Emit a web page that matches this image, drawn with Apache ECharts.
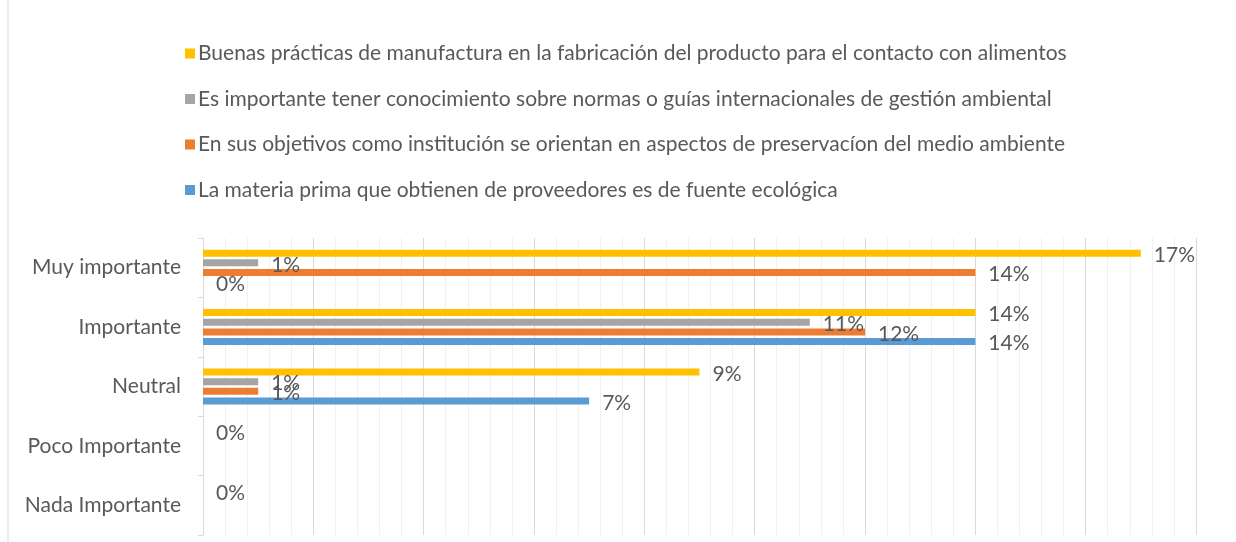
<!DOCTYPE html>
<html><head><meta charset="utf-8">
<script src="https://cdn.jsdelivr.net/npm/echarts@6/dist/echarts.min.js"></script>
<style>html,body{margin:0;padding:0;background:#fff}#c{width:1236px;height:542px}</style>
</head><body><div id="c"></div>
<script>
const categories = ["Muy importante", "Importante", "Neutral", "Poco Importante", "Nada Importante"];
const seriesNames = [
  "Buenas prácticas de manufactura en la fabricación del producto para el contacto con alimentos",
  "Es importante tener conocimiento sobre normas o guías internacionales de gestión ambiental",
  "En sus objetivos como institución se orientan en aspectos de preservacíon del medio ambiente",
  "La materia prima que obtienen de proveedores es de fuente ecológica"
];
const buenasPracticas = [17, 14, 9, 0, 0];
const normasInternacionales = [1, 11, 1, null, null];
const objetivosInstitucion = [14, 12, 1, null, null];
const materiaPrima = [0, 14, 7, null, null];
const colors = ["#FFC000", "#A5A5A5", "#ED7D31", "#5B9BD5"];

const font = "Lato, 'Open Sans', sans-serif";
const fs = 21;
const values = [buenasPracticas, normasInternacionales, objetivosInstitucion, materiaPrima];
const series = values.map((v, i) => ({
  name: seriesNames[i],
  type: 'bar',
  data: v,
  barWidth: 7,
  barGap: '38%',
  itemStyle: { color: colors[i] },
  label: { show: true, position: 'right', distance: 13, offset: [0, 2], formatter: '{c}%', color: '#595959', fontSize: fs, fontFamily: font },
  emphasis: { disabled: true }
}));

const chart = echarts.init(document.getElementById('c'), null, { renderer: 'canvas' });
chart.setOption({
  animation: false,
  color: colors,
  legend: {
    orient: 'vertical', left: 180, top: 38, itemGap: 24.5,
    itemWidth: 10, itemHeight: 10, icon: 'rect',
    textStyle: { color: '#595959', fontSize: fs, fontFamily: font, padding: [0,0,0,-2] },
    data: seriesNames
  },
  grid: { left: 203, top: 238, width: 993, height: 297, containLabel: false },
  xAxis: {
    type: 'value', min: 0, max: 18, interval: 2,
    axisLabel: { show: false }, axisLine: { show: false }, axisTick: { show: false },
    splitLine: { show: true, lineStyle: { color: '#D9D9D9', width: 1 } },
    minorTick: { show: false, splitNumber: 5 },
    minorSplitLine: { show: true, lineStyle: { color: '#F0F0F0', width: 1 } }
  },
  yAxis: {
    type: 'category', data: categories, inverse: true,
    axisLine: { show: true, lineStyle: { color: '#D9D9D9' } },
    axisTick: { show: true, length: 5, lineStyle: { color: '#D9D9D9' } },
    axisLabel: { color: '#595959', fontSize: fs, fontFamily: font, margin: 22 }
  },
  graphic: [{ type: 'line', shape: { x1: 8, y1: 0, x2: 8, y2: 542 }, style: { stroke: '#D9D9D9', lineWidth: 1 } }],
  series: series
});
</script></body></html>
